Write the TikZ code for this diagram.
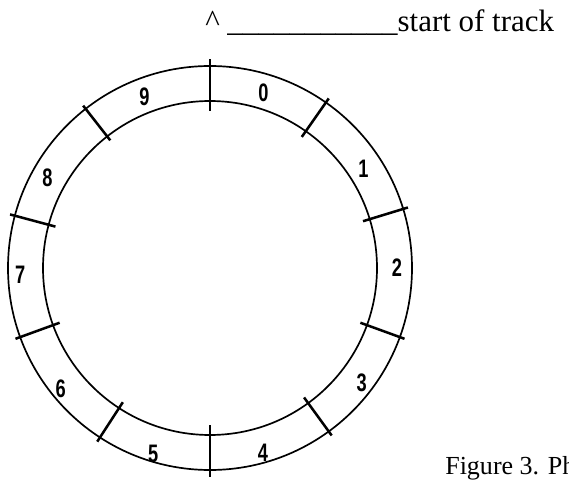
\documentclass[tikz,border=0pt]{standalone}
\usepackage{fontspec}
\setmainfont{Liberation Serif}
\setsansfont{Liberation Sans}
\newfontfamily\trackdigits[FakeStretch=0.72]{Liberation Sans}
\usetikzlibrary{positioning}

\begin{document}
\begin{tikzpicture}[x=0.025cm, y=0.025cm,
  sector/.style={font=\trackdigits\bfseries\fontsize{18}{18}\selectfont, inner sep=0pt},
  ring/.style={line width=1.2pt},
  cut/.style={line width=1.8pt}]

\useasboundingbox (-210,-211) rectangle (359,268);

\coordinate (ctr) at (0,0);

% heading above the track
\node[anchor=base west, inner sep=0pt, font=\fontsize{22}{24}\selectfont] (start) at (-5,236) {\textasciicircum{} \_\_\_\_\_\_\_\_\_\_\_start of track};

% the two circles of the track
\draw[ring] (ctr) circle (202);
\draw[ring] (ctr) circle (167);

% sector boundaries
\draw[cut] (90:157) -- (90:209);
\draw[cut] (55:160) -- (55:207);
\draw[cut] (17:160) -- (17:207);
\draw[cut] (-20:160) -- (-20:207);
\draw[cut] (-54:160) -- (-54:207);
\draw[cut] (-90:157) -- (-90:209);
\draw[cut] (-123:160) -- (-123:207);
\draw[cut] (-160:160) -- (-160:207);
\draw[cut] (165:160) -- (165:207);
\draw[cut] (128:162) -- (128:206);

% sector numbers
\node[sector] (s0) at (73:183) {0};
\node[sector] (s1) at (33:183) {1};
\node[sector] (s2) at (0:187) {2};
\node[sector] (s3) at (323:190) {3};
\node[sector] (s4) at (286:192) {4};
\node[sector] (s5) at (253:194) {5};
\node[sector] (s6) at (219:192) {6};
\node[sector] (s7) at (182:190) {7};
\node[sector] (s8) at (151:186) {8};
\node[sector] (s9) at (111:183) {9};

% caption, cut by the page edge
\node[anchor=base west, inner sep=0pt, font=\fontsize{18.5}{20}\selectfont] (caption) at (235,-206) {Figure 3. Ph};

\end{tikzpicture}
\end{document}
